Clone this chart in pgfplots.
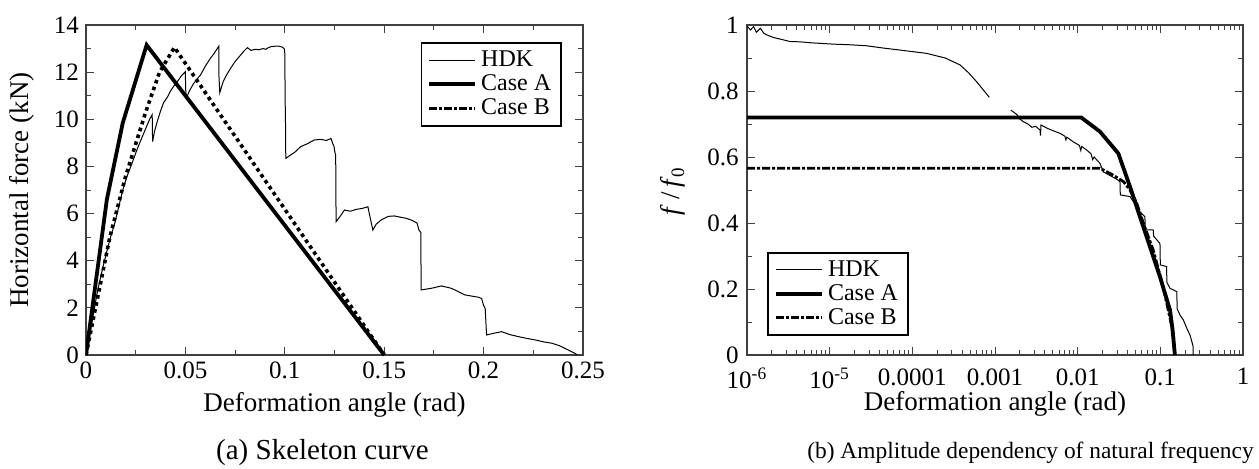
\documentclass[border=0pt]{standalone}
\usepackage{fontspec}
\setmainfont{Liberation Serif}
\usepackage{pgfplots}
\pgfplotsset{compat=1.18}

\pgfplotsset{
  fig/.style={
    scale only axis,
    axis line style={black!75, line width=0.6pt},
    every tick/.style={black!75, line width=0.5pt},
    tick align=inside, tick pos=both,
    major tick length=4pt, minor tick length=2.5pt,
    /pgf/number format/assume math mode=true,
    ticklabel style={font=\fontsize{12.5}{14}\selectfont},
    label style={font=\fontsize{13.5}{15}\selectfont},
    legend style={draw=black, line width=0.9pt, fill=white,
      font=\fontsize{12}{13}\selectfont,
      inner xsep=3pt, inner ysep=2pt, row sep=-1.5pt,
      cells={anchor=west}},
    legend image code/.code={\draw[#1] (0pt,0pt) -- (23pt,0pt);},
  },
  hdk/.style={black, line width=0.5pt},
  casea/.style={black, line width=1.9pt},
  casebdot/.style={black, line width=1.8pt, dash pattern=on 1.8pt off 1.8pt},
  casebdash/.style={black, line width=1.4pt, dash pattern=on 4pt off 1pt on 1.5pt off 1pt},
}

\begin{document}
\begin{tikzpicture}
\path[use as bounding box] (0,0) rectangle (629.5pt,234pt);

% (a) skeleton curve
\begin{axis}[fig,
  at={(43pt,56.5pt)}, anchor=south west,
  width=248.5pt, height=165pt,
  xmin=0, xmax=0.25, ymin=0, ymax=14,
  xtick={0,0.05,0.1,0.15,0.2,0.25},
  xticklabels={0,0.05,0.1,0.15,0.2,0.25},
  minor x tick num=1,
  ytick={0,2,4,6,8,10,12,14},
  minor y tick num=1,
  xlabel={Deformation angle (rad)},
  ylabel={Horizontal force (kN)},
  xlabel style={at={(axis description cs:0.5,-0.152)}, anchor=center},
  ylabel style={at={(axis description cs:-0.129,0.5)}, anchor=center},
  legend style={at={(axis description cs:0.958,0.9476)}, anchor=north east},
]
\addplot[hdk] coordinates {
(0,0) (0.003,1.4) (0.006,2.8) (0.009,3.9) (0.012,4.9) (0.0145,5.6)
(0.0165,6.3) (0.0185,7.0) (0.0205,7.55) (0.023,8.1) (0.0256,8.7)
(0.028,9.2) (0.0305,9.7) (0.032,10.0) (0.0333,10.2) (0.0335,9.05)
(0.0345,9.5) (0.036,9.95) (0.0375,10.35) (0.039,10.7) (0.041,10.95)
(0.0425,11.2) (0.0441,11.4) (0.046,11.6) (0.048,11.85) (0.05,12.02)
(0.0501,11.3) (0.0505,10.89) (0.052,11.2) (0.054,11.5) (0.0558,11.7)
(0.0576,11.88) (0.06,12.25) (0.0626,12.59) (0.0645,12.8) (0.0668,13.1)
(0.0669,11.8) (0.0673,11.13) (0.069,11.6) (0.0705,11.85) (0.0727,12.16)
(0.075,12.45) (0.0778,12.73) (0.0795,12.9) (0.0812,13.04) (0.083,12.92)
(0.085,12.97) (0.087,12.95) (0.089,13.0) (0.0905,12.97) (0.0913,13.02)
(0.093,13.08) (0.095,13.1) (0.097,13.1) (0.0985,13.07) (0.0997,13.0)
(0.1,12.8) (0.1002,10.6) (0.1003,10.4) (0.1005,8.34) (0.103,8.49)
(0.105,8.6) (0.108,8.84) (0.111,8.95) (0.1148,9.12) (0.118,9.15)
(0.121,9.1) (0.1232,9.19) (0.1242,8.95) (0.1248,8.84) (0.1252,8.6)
(0.1256,8.5) (0.1258,5.66) (0.128,5.9) (0.13,6.15) (0.133,6.1)
(0.136,6.18) (0.139,6.22) (0.1418,6.29) (0.1425,6.0) (0.1443,5.3)
(0.146,5.55) (0.1485,5.73) (0.152,5.88) (0.155,5.9) (0.158,5.85)
(0.161,5.8) (0.1636,5.73) (0.1665,5.6) (0.1675,5.3) (0.1684,5.2)
(0.1686,2.76) (0.1737,2.83) (0.1788,2.93) (0.1838,2.83) (0.187,2.7)
(0.1906,2.55) (0.194,2.5) (0.1975,2.45) (0.199,2.4) (0.2,2.1)
(0.2008,1.98) (0.2015,0.85) (0.205,0.92) (0.2091,0.99) (0.213,0.87)
(0.2175,0.78) (0.222,0.7) (0.226,0.64) (0.23,0.56) (0.2343,0.5)
(0.238,0.4) (0.241,0.28) (0.244,0.15) (0.246,0.07) (0.247,0)
};
\addlegendentry{HDK}
\addplot[casea] coordinates {
(0,0) (0.0105,6.6) (0.0185,9.85) (0.0305,13.15) (0.15,0)
};
\addlegendentry{Case A}
\addplot[casebdot, forget plot] coordinates {
(0,0) (0.012,5.0) (0.02,7.6) (0.03,10.3) (0.037,12.0) (0.0445,13.05) (0.15,0)
};
\addlegendimage{casebdash}
\addlegendentry{Case B}
\end{axis}

% (b) amplitude dependency
\begin{axis}[fig,
  at={(373.5pt,56.5pt)}, anchor=south west,
  width=248pt, height=165pt,
  xmode=log, xmin=1e-6, xmax=1, ymin=0, ymax=1,
  xtick={1e-6,1e-5,1e-4,1e-3,1e-2,1e-1,1},
  xticklabels={10\textsuperscript{-6},10\textsuperscript{-5},0.0001,0.001,0.01,0.1,1},
  xticklabel style={inner sep=1pt, yshift=-5.5pt},
  yticklabel style={inner sep=1pt, xshift=-3pt},
  minor xtick={2e-6,3e-6,4e-6,5e-6,6e-6,7e-6,8e-6,9e-6,
    2e-5,3e-5,4e-5,5e-5,6e-5,7e-5,8e-5,9e-5,
    2e-4,3e-4,4e-4,5e-4,6e-4,7e-4,8e-4,9e-4,
    2e-3,3e-3,4e-3,5e-3,6e-3,7e-3,8e-3,9e-3,
    2e-2,3e-2,4e-2,5e-2,6e-2,7e-2,8e-2,9e-2,
    0.2,0.3,0.4,0.5,0.6,0.7,0.8,0.9},
  ytick={0,0.2,0.4,0.6,0.8,1},
  yticklabels={0,0.2,0.4,0.6,0.8,1},
  minor ytick={0.1,0.3,0.5,0.7,0.9},
  xlabel={Deformation angle (rad)},
  ylabel={\textit{f}\,/\,\textit{f}\textsubscript{0}},
  xlabel style={at={(axis description cs:0.5,-0.148)}, anchor=center},
  ylabel style={at={(axis description cs:-0.149,0.497)}, anchor=center},
  legend style={at={(axis description cs:0.041,0.0576)}, anchor=south west},
]
\addplot[hdk] coordinates {
(1e-6,0.997) (1.1e-6,0.985) (1.2e-6,0.995) (1.3e-6,0.978) (1.45e-6,0.99)
(1.6e-6,0.975) (1.73e-6,0.97) (2.1e-6,0.962) (2.75e-6,0.955) (3.3e-6,0.95)
(4.38e-6,0.949) (6e-6,0.946) (1.11e-5,0.942) (1.8e-5,0.94) (2.81e-5,0.937)
(4.5e-5,0.93) (7.1e-5,0.924) (1.49e-4,0.914) (2.5e-4,0.9) (3.78e-4,0.879)
(4.8e-4,0.855) (6.0e-4,0.828) (8.53e-4,0.781)
};
\addlegendentry{HDK}
\addplot[hdk, forget plot] coordinates {
(1.56e-3,0.742) (1.7e-3,0.735) (1.85e-3,0.728) (2.0e-3,0.715) (2.2e-3,0.707)
(2.5e-3,0.70) (2.8e-3,0.69) (3.1e-3,0.693) (3.5e-3,0.682) (3.55e-3,0.665)
(3.6e-3,0.697) (4.2e-3,0.688) (5e-3,0.68) (6.1e-3,0.672) (7e-3,0.663)
(7.2e-3,0.652) (7.4e-3,0.66) (8.85e-3,0.646) (0.0105,0.635) (0.0109,0.62)
(0.0112,0.632) (0.01285,0.621) (0.0145,0.61) (0.0152,0.592) (0.0158,0.6)
(0.0186,0.581) (0.0204,0.555) (0.025,0.543) (0.03,0.532) (0.0325,0.525)
(0.0328,0.485) (0.043,0.48) (0.05,0.455) (0.0567,0.434) (0.065,0.419)
(0.066,0.379) (0.082,0.379) (0.083,0.36) (0.099,0.338) (0.1,0.273)
(0.119,0.268) (0.12,0.22) (0.131,0.202) (0.158,0.192) (0.16,0.14)
(0.173,0.121) (0.19,0.106) (0.21,0.08) (0.229,0.06) (0.25,0.025) (0.25,0)
};
\addplot[casea] coordinates {
(1e-6,0.72) (0.011,0.72) (0.0186,0.677) (0.031,0.611) (0.043,0.51)
(0.0567,0.419) (0.0684,0.358) (0.099,0.237) (0.131,0.136) (0.14,0.08) (0.15,0)
};
\addlegendentry{Case A}
\addplot[casebdash] coordinates {
(1e-6,0.566) (0.0186,0.566) (0.0269,0.545) (0.036,0.525) (0.043,0.5)
(0.0518,0.46) (0.0622,0.4) (0.082,0.318) (0.108,0.207) (0.1435,0.066) (0.15,0)
};
\addlegendentry{Case B}
\end{axis}

\node[font=\fontsize{14.5}{16}\selectfont] at (161.25pt,7.5pt) {(a) Skeleton curve};
\node[font=\fontsize{11.7}{13}\selectfont] at (515.25pt,7.5pt) {(b) Amplitude dependency of natural frequency};
\end{tikzpicture}
\end{document}
